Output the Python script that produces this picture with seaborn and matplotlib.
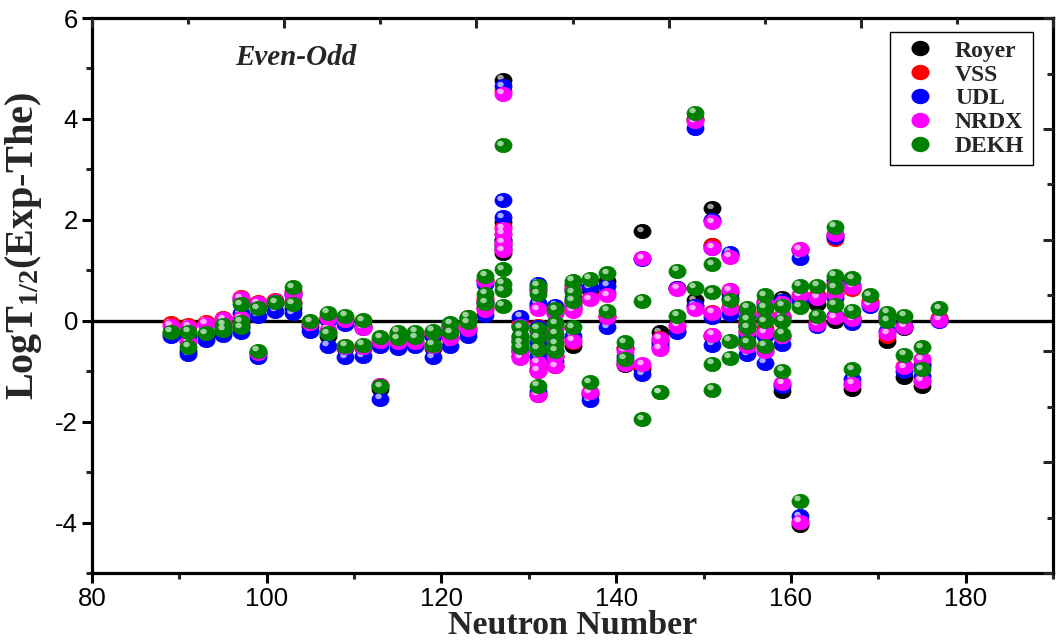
import numpy as np
import pandas as pd
import matplotlib
matplotlib.use("Agg")
import matplotlib.pyplot as plt
import seaborn as sns
from matplotlib.path import Path
from matplotlib.transforms import Affine2D, ScaledTranslation
from matplotlib.lines import Line2D
from matplotlib.ticker import MultipleLocator

# ---------------- data ----------------
neutron = [89, 91, 91, 93, 95, 95, 97, 97, 97, 99, 99, 101, 103, 103, 105, 107, 107,
           109, 109, 111, 111, 113, 113, 115, 115, 117, 117, 119, 119, 121, 121, 123, 123,
           125, 125, 125, 127, 127, 127, 127, 127, 129, 129, 129, 129,
           131, 131, 131, 131, 131, 131, 133, 133, 133, 133, 133, 135, 135, 135, 135,
           137, 137, 139, 139, 141, 141, 143, 143, 145, 145, 147, 147, 149, 149,
           151, 151, 151, 151, 153, 153, 153, 155, 155, 155, 155, 157, 157, 157, 157,
           159, 159, 159, 159, 161, 161, 161, 163, 163, 165, 165, 165, 165,
           167, 167, 167, 169, 171, 171, 173, 173, 175, 175, 177]

royer = [-0.25, -0.25, -0.6, -0.3, -0.25, -0.15, 0.42, 0.0, -0.12, 0.3, -0.65, 0.35, 0.55, 0.25,
         -0.1, 0.05, -0.3, 0.0, -0.55, -0.1, -0.55, -0.45, -1.35, -0.3, -0.45, -0.3, -0.45,
         -0.3, -0.55, -0.1, -0.35, 0.05, -0.2,
         0.8, 0.4, 0.25, 4.78, 1.95, 1.6, 1.5, 1.35, -0.1, -0.4, -0.6, -0.7,
         0.6, 0.3, -0.2, -0.7, -0.95, -1.45, 0.15, -0.15, -0.4, -0.7, -0.9, 0.7, 0.4, 0.25, -0.5,
         0.6, -1.45, 0.79, 0.1, -0.55, -0.88, 1.77, -0.95, -0.23, -0.45, 0.65, -0.2, 4.0, 0.41,
         2.23, 1.5, 0.15, -0.3, 1.3, 0.55, 0.25, 0.15, -0.1, -0.25, -0.5, 0.35, 0.1, -0.2, -0.6,
         0.46, 0.1, -0.3, -1.4, 1.4, 0.45, -4.05, 0.33, -0.05, 1.7, 0.7, 0.5, 0.0,
         0.65, 0.05, -1.35, 0.35, 0.05, -0.4, -0.15, -1.12, -0.85, -1.3, 0.05]

vss = [-0.05, -0.08, -0.4, -0.02, 0.02, 0.05, 0.48, 0.08, -0.05, 0.38, -0.62, 0.42, 0.58, 0.38,
       -0.02, 0.08, -0.22, 0.05, -0.5, -0.1, -0.5, -0.38, -1.28, -0.25, -0.4, -0.25, -0.4,
       -0.22, -0.5, -0.08, -0.32, 0.08, -0.15,
       0.8, 0.45, 0.28, 4.55, 1.85, 1.72, 1.55, 1.4, -0.05, -0.35, -0.55, -0.7,
       0.65, 0.3, -0.1, -0.8, -1.0, -1.48, 0.2, -0.1, -0.35, -0.7, -0.9, 0.65, 0.35, 0.22, -0.42,
       0.45, -1.42, 0.55, 0.1, -0.55, -0.85, 1.24, -0.9, -0.35, -0.55, 0.65, -0.1, 4.0, 0.3,
       2.0, 1.5, 0.18, -0.28, 1.3, 0.6, 0.28, 0.2, -0.05, -0.2, -0.45, 0.4, 0.15, -0.15, -0.55,
       0.35, 0.1, -0.3, -1.25, 1.42, 0.5, -3.98, 0.5, 0.0, 1.62, 0.75, 0.55, 0.1,
       0.62, 0.08, -1.25, 0.4, 0.1, -0.3, -0.1, -0.9, -0.75, -1.2, 0.05]

udl = [-0.3, -0.3, -0.66, -0.38, -0.28, -0.2, 0.15, 0.05, -0.22, 0.1, -0.72, 0.2, 0.5, 0.15,
       -0.2, 0.02, -0.5, -0.07, -0.72, -0.15, -0.7, -0.5, -1.55, -0.35, -0.55, -0.35, -0.5,
       -0.3, -0.72, -0.2, -0.5, 0.0, -0.3,
       0.73, 0.35, 0.12, 4.65, 2.39, 2.05, 1.6, 1.45, 0.08, -0.3, -0.5, -0.6,
       0.73, 0.35, -0.13, -0.45, -0.7, -1.4, 0.3, -0.05, -0.35, -0.6, -0.8, 0.6, 0.45, 0.3, -0.3,
       0.66, -1.58, 0.69, -0.13, -0.7, -0.8, 1.22, -1.06, -0.4, -0.5, 0.65, -0.23, 3.82, 0.3,
       2.0, 1.45, 0.07, -0.48, 1.35, 0.45, 0.13, 0.1, -0.1, -0.3, -0.66, 0.3, 0.05, -0.3, -0.83,
       0.4, 0.05, -0.46, -1.3, 1.25, 0.4, -3.88, 0.45, -0.1, 1.65, 0.8, 0.45, 0.1,
       0.7, -0.05, -1.15, 0.3, 0.1, -0.2, -0.1, -1.0, -0.9, -1.1, 0.0]

nrdx = [-0.1, -0.12, -0.42, -0.06, -0.02, 0.03, 0.45, 0.05, -0.08, 0.35, -0.63, 0.4, 0.53, 0.35,
        -0.05, 0.05, -0.18, 0.02, -0.52, -0.14, -0.52, -0.4, -1.27, -0.28, -0.42, -0.28, -0.42,
        -0.22, -0.5, -0.1, -0.34, 0.05, -0.16,
        0.78, 0.42, 0.22, 4.5, 1.82, 1.72, 1.55, 1.4, -0.1, -0.4, -0.6, -0.73,
        0.6, 0.23, -0.2, -0.83, -0.99, -1.47, 0.15, -0.15, -0.4, -0.7, -0.9, 0.62, 0.3, 0.2, -0.4,
        0.43, -1.42, 0.5, 0.07, -0.6, -0.86, 1.24, -0.86, -0.36, -0.56, 0.63, -0.1, 3.95, 0.23,
        1.95, 1.45, 0.16, -0.28, 1.27, 0.6, 0.26, 0.15, -0.05, -0.2, -0.5, 0.35, 0.12, -0.23, -0.6,
        0.35, 0.08, -0.3, -1.24, 1.42, 0.5, -3.98, 0.46, -0.07, 1.72, 0.7, 0.53, 0.07,
        0.67, 0.03, -1.25, 0.33, 0.05, -0.25, -0.12, -0.92, -0.76, -1.19, 0.02]

dekh = [-0.22, -0.22, -0.52, -0.25, -0.18, -0.08, 0.33, -0.02, -0.13, 0.25, -0.6, 0.37, 0.66, 0.34,
        -0.01, 0.16, -0.25, 0.1, -0.5, 0.01, -0.48, -0.33, -1.3, -0.22, -0.35, -0.22, -0.33,
        -0.2, -0.48, -0.05, -0.23, 0.08, -0.03,
        0.89, 0.53, 0.36, 3.48, 1.02, 0.73, 0.6, 0.3, -0.13, -0.3, -0.43, -0.53,
        0.69, 0.53, -0.16, -0.33, -0.56, -1.29, 0.23, -0.05, -0.26, -0.46, -0.6, 0.79, 0.56, 0.4, -0.13,
        0.83, -1.22, 0.94, 0.2, -0.43, -0.75, 0.4, -1.95, -1.42, -1.42, 0.99, 0.1, 4.12, 0.65,
        1.12, 0.56, -0.85, -1.37, 0.41, -0.4, -0.73, 0.26, 0.03, -0.13, -0.43, 0.5, 0.26, -0.01, -0.5,
        0.3, 0.0, -0.26, -0.99, 0.69, 0.28, -3.57, 0.69, 0.1, 1.86, 0.89, 0.66, 0.32,
        0.84, 0.2, -0.96, 0.5, 0.16, 0.0, 0.1, -0.67, -0.53, -0.96, 0.25]

models = ["Royer", "VSS", "UDL", "NRDX", "DEKH"]
colors = ["#000000", "#FF0000", "#0000FF", "#FF00FF", "#008000"]
highlights = ["#BBBBBB", "#FFC8C8", "#C8C8FF", "#FFD0FF", "#B8E0B8"]
series = [royer, vss, udl, nrdx, dekh]

df = pd.DataFrame({"N": neutron, **{m: v for m, v in zip(models, series)}})
long = df.melt(id_vars="N", var_name="Model", value_name="dLogT")

# ---------------- style ----------------
sns.set_theme(style="ticks")
plt.rcParams["font.family"] = ["Liberation Sans", "DejaVu Sans"]
plt.rcParams["axes.unicode_minus"] = False
plt.rcParams["mathtext.fontset"] = "custom"
plt.rcParams["mathtext.rm"] = "Liberation Serif:bold"
plt.rcParams["mathtext.it"] = "Liberation Serif:italic:bold"
plt.rcParams["mathtext.bf"] = "Liberation Serif:bold"

fig = plt.figure(figsize=(10.59, 6.43), dpi=100)
ax = fig.add_axes([92/1059, 1-573/643, 961/1059, 555/643])

ellipse = Affine2D().scale(1.0, 0.84).transform_path(Path.unit_circle())
hl_offset = ScaledTranslation(-2.5/100, 2.5/100, fig.dpi_scale_trans)

for i, (m, c, h) in enumerate(zip(models, colors, highlights)):
    sub = long[long["Model"] == m]
    sns.scatterplot(data=sub, x="N", y="dLogT", ax=ax, color=c, marker=ellipse,
                    s=150, edgecolor=c, linewidth=0.6, zorder=3 + 2*i, legend=False)
    ax.scatter(sub["N"], sub["dLogT"], s=22, marker=ellipse, color=h, alpha=0.85,
               linewidths=0, zorder=4 + 2*i, transform=ax.transData + hl_offset)

ax.axhline(0, color="black", lw=2.4, zorder=2)

ax.set_xlim(80, 190)
ax.set_ylim(-5, 6)
ax.xaxis.set_major_locator(MultipleLocator(20))
ax.xaxis.set_minor_locator(MultipleLocator(10))
ax.yaxis.set_major_locator(MultipleLocator(2))
ax.yaxis.set_minor_locator(MultipleLocator(1))
ax.tick_params(which="major", direction="out", length=7, width=2.2, labelsize=18.5,
               colors="black", pad=3)
ax.tick_params(which="minor", direction="out", length=4.5, width=2.2)
for sp in ax.spines.values():
    sp.set_linewidth(2.3)
    sp.set_color("black")
    sp.set_visible(True)

# mirrored top/right ticks (independent scale, as in the source)
ov = fig.add_axes(ax.get_position(), frameon=False)
ov.set_xlim(0, 1); ov.set_ylim(0, 1)
ov.xaxis.tick_top(); ov.yaxis.tick_right()
ov.xaxis.set_major_locator(MultipleLocator(0.2)); ov.xaxis.set_minor_locator(MultipleLocator(0.1))
ov.yaxis.set_major_locator(MultipleLocator(0.2)); ov.yaxis.set_minor_locator(MultipleLocator(0.1))
ov.tick_params(which="major", direction="in", length=7, width=2.2, labeltop=False, labelright=False)
ov.tick_params(which="minor", direction="in", length=4.5, width=2.2)
ov.patch.set_visible(False)

ax.set_xlabel("Neutron Number", fontsize=24.5, fontweight="bold", family="Liberation Serif")
ax.xaxis.set_label_coords(0.5, -0.1225)
ax.xaxis.label.set_va("bottom")
ax.set_ylabel(r"LogT$_{\mathrm{1/2}}$(Exp-The)", fontsize=29, fontweight="bold",
              family="Liberation Serif")
ax.yaxis.set_label_coords(-0.05, 0.59)

ax.text(0.149, 0.928, "Even-Odd", transform=ax.transAxes, fontsize=21, fontweight="bold",
        fontstyle="italic", family="Liberation Serif", va="center", ha="left")

handles = [Line2D([], [], linestyle="none", marker=ellipse, markersize=12, color=c,
                  markeredgecolor=c) for c in colors]
leg = ax.legend(handles, models, loc="upper right", bbox_to_anchor=(0.979, 0.975),
                borderaxespad=0,
                prop={"family": "Liberation Serif", "weight": "bold", "size": 17},
                frameon=True, fancybox=False, framealpha=1, edgecolor="black",
                labelspacing=0.1, handletextpad=0.6, borderpad=0.35, handlelength=1.8)
leg.get_frame().set_linewidth(1.0)
leg.set_zorder(20)

fig.savefig("out.png", dpi=100)
